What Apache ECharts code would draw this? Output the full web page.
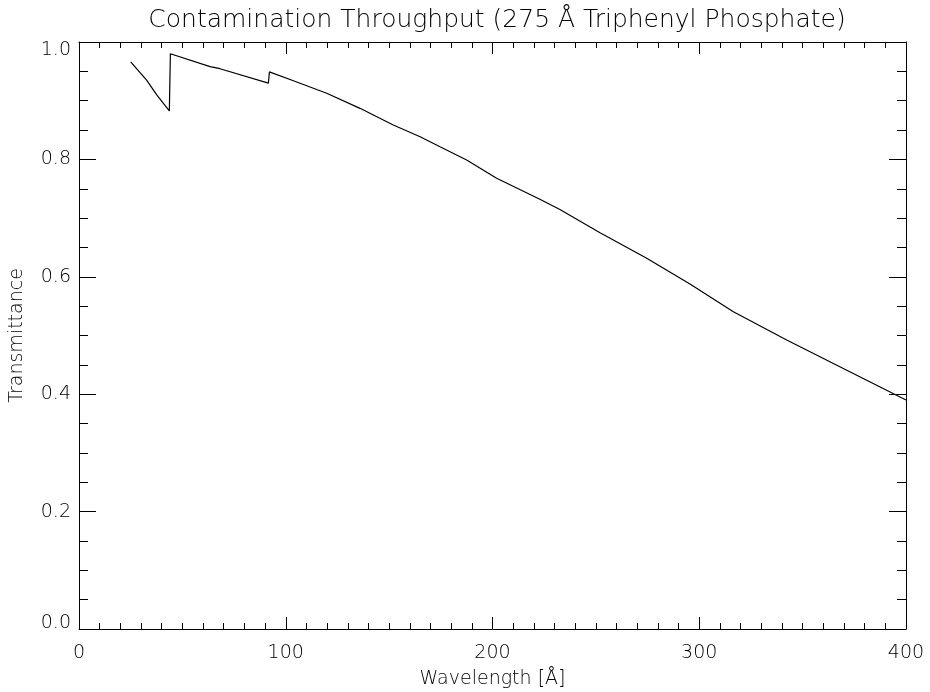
<!DOCTYPE html>
<html>
<head>
<meta charset="utf-8">
<script src="https://cdn.jsdelivr.net/npm/echarts@6/dist/echarts.min.js"></script>
<style>
  html, body { margin: 0; padding: 0; background: #fff; }
  #chart { width: 930px; height: 692px; }
</style>
</head>
<body>
<div id="chart"></div>
<script>
// Filter transmittance of a 275 Å triphenyl phosphate contamination layer
const wavelength = [25, 32.7, 37.6, 43.7, 44.2, 63.4, 68.2, 91.6, 92.1, 103.7, 119.8, 135.9, 152, 165, 174.6, 187.5, 202, 222.9, 232.6, 252, 274.6, 295.5, 316.5, 342.3, 368, 400];
const transmittance = [0.966, 0.935, 0.910, 0.8825, 0.980, 0.958, 0.9545, 0.930, 0.949, 0.934, 0.9126, 0.887, 0.8586, 0.8387, 0.8217, 0.799, 0.7678, 0.732, 0.7145, 0.675, 0.6315, 0.5877, 0.5406, 0.4923, 0.4468, 0.390];

const titleText = 'Contamination Throughput (275 Å Triphenyl Phosphate)';
const xName = 'Wavelength [Å]';
const yName = 'Transmittance';

const points = wavelength.map((w, i) => [w, transmittance[i]]);
const font = 'DejaVu Sans';
const ink = '#000';

function xAxisDef(pos, labels) {
  return {
    type: 'value', position: pos, min: 0, max: 400, interval: 100,
    axisLine: { show: true, onZero: false, lineStyle: { color: '#000', width: 1 } },
    axisTick: { show: true, inside: true, length: 12, lineStyle: { color: '#000' } },
    minorTick: { show: true, splitNumber: 10, length: 6, lineStyle: { color: '#000' } },
    splitLine: { show: false },
    axisLabel: { show: labels, color: ink, fontFamily: font, fontWeight: 300, fontSize: 19, margin: 15 },
    name: labels ? xName : '', nameLocation: 'middle', nameGap: 41,
    nameTextStyle: { color: ink, fontFamily: font, fontWeight: 300, fontSize: 19 }
  };
}
function yAxisDef(pos, labels) {
  return {
    type: 'value', position: pos, min: 0, max: 1, interval: 0.2,
    axisLine: { show: true, onZero: false, lineStyle: { color: '#000', width: 1 } },
    axisTick: { show: true, inside: true, length: 17, lineStyle: { color: '#000' } },
    minorTick: { show: true, splitNumber: 4, length: 9, lineStyle: { color: '#000' } },
    splitLine: { show: false },
    axisLabel: {
      show: labels, color: ink, fontFamily: font, fontWeight: 300, fontSize: 19, margin: 8,
      formatter: v => {
        const s = v.toFixed(1);
        if (v >= 1) return '{hi|' + s + '}';
        if (v <= 0) return '{lo|' + s + '}';
        return s;
      },
      rich: {
        hi: { padding: [16, 0, 0, 0], fontFamily: font, fontWeight: 300, fontSize: 19, color: ink },
        lo: { padding: [0, 0, 12, 0], fontFamily: font, fontWeight: 300, fontSize: 19, color: ink }
      }
    },
    name: labels ? yName : '', nameLocation: 'middle', nameGap: 52, nameRotate: 90,
    nameTextStyle: { color: ink, fontFamily: font, fontWeight: 300, fontSize: 19 }
  };
}

const chart = echarts.init(document.getElementById('chart'), null, { renderer: 'canvas' });
chart.setOption({
  animation: false,
  backgroundColor: '#fff',
  title: {
    text: titleText, left: 492, top: 3, textAlign: 'center',
    textStyle: { color: ink, fontFamily: font, fontSize: 25, fontWeight: 300 }
  },
  grid: { left: 79, top: 42, right: 24, bottom: 63, containLabel: false, outerBoundsMode: 'none' },
  xAxis: [xAxisDef('bottom', true), xAxisDef('top', false)],
  yAxis: [yAxisDef('left', true), yAxisDef('right', false)],
  series: [{
    type: 'line', data: points, xAxisIndex: 0, yAxisIndex: 0,
    showSymbol: false, symbol: 'none',
    lineStyle: { color: '#000', width: 1.2 }
  }]
});
</script>
</body>
</html>
